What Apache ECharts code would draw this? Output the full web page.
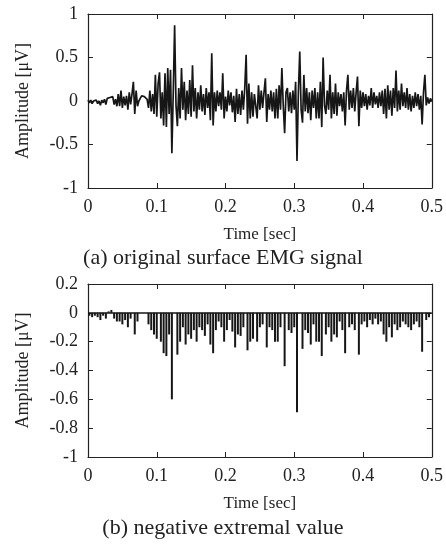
<!DOCTYPE html>
<html>
<head>
<meta charset="utf-8">
<script src="https://cdn.jsdelivr.net/npm/echarts@6/dist/echarts.min.js"></script>
<style>
html,body{margin:0;padding:0;background:#fff;}
#chart{width:446px;height:553px;}
</style>
</head>
<body>
<div id="chart"></div>
<script>
// ---- data ----
var sampleStep = 0.002; // seconds between samples
var emgSignal = [
 0.01,-0.02,0.01,-0.03,0.0,-0.02,0.01,-0.03,0.0,-0.05,
 0.01,-0.02,0.02,-0.04,0.03,0.01,0.04,0.02,0.05,-0.04,
 0.02,-0.06,0.08,-0.06,0.12,-0.08,0.05,-0.05,0.06,-0.1,
 0.1,-0.04,0.08,0.22,-0.15,0.12,-0.06,0.0,0.03,0.06,
 0.07,0.05,0.03,0.02,-0.08,0.12,-0.12,0.08,-0.15,0.3,
 -0.18,0.2,0.33,-0.2,0.1,-0.28,0.32,-0.3,0.38,-0.15,
 0.36,-0.6,0.1,0.87,-0.05,-0.29,0.15,-0.2,0.38,-0.1,
 0.22,-0.22,0.12,-0.15,0.24,-0.18,0.41,-0.12,0.15,-0.2,
 0.1,-0.1,0.18,-0.12,0.08,-0.16,0.15,-0.08,0.1,-0.22,
 0.55,-0.28,0.1,-0.12,0.12,-0.06,0.1,-0.1,0.32,-0.2,
 0.05,-0.12,0.12,-0.05,0.1,-0.13,0.06,-0.24,0.14,-0.15,
 0.08,-0.16,0.12,-0.1,0.15,0.53,-0.26,0.2,-0.2,0.1,
 -0.18,0.08,-0.06,-0.2,0.18,-0.1,0.12,-0.08,0.1,0.26,
 -0.24,0.08,-0.1,0.12,-0.12,0.1,-0.2,0.14,-0.2,0.18,
 -0.1,0.38,-0.05,-0.37,0.1,0.15,-0.12,0.1,-0.14,0.12,
 -0.1,0.22,-0.69,0.1,0.57,-0.1,-0.25,0.3,-0.12,0.15,
 -0.14,0.1,-0.22,0.12,-0.08,0.15,-0.2,0.1,-0.2,0.22,
 -0.3,0.5,-0.05,-0.15,0.12,-0.1,0.3,-0.2,0.1,-0.15,
 0.2,-0.17,0.1,-0.06,0.08,-0.12,0.1,-0.28,0.12,0.3,
 -0.1,0.12,-0.08,0.15,-0.12,0.1,0.28,-0.29,0.12,-0.08,
 0.1,-0.06,0.08,-0.1,0.06,-0.05,0.15,-0.08,0.1,-0.04,
 0.06,-0.08,0.1,-0.06,0.12,-0.15,0.14,-0.2,0.18,-0.1,
 0.12,-0.17,0.15,-0.08,0.35,-0.12,0.12,-0.1,0.2,-0.06,
 0.1,-0.08,0.15,-0.1,0.08,-0.12,0.06,-0.08,0.1,-0.06,
 0.08,-0.1,0.06,-0.27,0.1,0.3,-0.05,0.04,-0.03,0.03,
 0.0
];
var xTicks = [0, 0.1, 0.2, 0.3, 0.4, 0.5];
var yTicksTop = [-1, -0.5, 0, 0.5, 1];
var yTicksBottom = [-1, -0.8, -0.6, -0.4, -0.2, 0, 0.2];
var captionA = '(a) original surface EMG signal';
var captionB = '(b) negative extremal value';
var xName = 'Time [sec]';
var yName = 'Amplitude [\u03bcV]';

// ---- build series data ----
var signalData = emgSignal.map(function (v, i) { return [+(i * sampleStep).toFixed(4), v]; });
// negative extremal values = local minima of the signal
var extremaData = [];
for (var i = 1; i < emgSignal.length - 1; i++) {
  if (emgSignal[i] < emgSignal[i - 1] && emgSignal[i] <= emgSignal[i + 1]) {
    extremaData.push([+(i * sampleStep).toFixed(4), emgSignal[i]]);
  }
}

var FONT = '"Liberation Serif","DejaVu Serif",serif';
var INK = '#222';

function xAx(grid, pos, labels) {
  var a = {
    type: 'value', gridIndex: grid, position: pos,
    min: xTicks[0], max: xTicks[xTicks.length - 1], interval: 0.1,
    axisLine: { show: true, onZero: false, lineStyle: { color: INK, width: 1.2 } },
    axisTick: { show: true, inside: true, length: 5, lineStyle: { color: INK } },
    splitLine: { show: false },
    axisLabel: { show: labels, color: INK, fontFamily: FONT, fontSize: 18, margin: 10 }
  };
  if (labels) {
    a.name = xName; a.nameLocation = 'middle'; a.nameGap = 38;
    a.nameTextStyle = { color: INK, fontFamily: FONT, fontSize: 17 };
  }
  return a;
}
function yAx(grid, pos, labels, ticks, step) {
  var a = {
    type: 'value', gridIndex: grid, position: pos,
    min: ticks[0], max: ticks[ticks.length - 1], interval: step,
    axisLine: { show: true, onZero: false, lineStyle: { color: INK, width: 1.2 } },
    axisTick: { show: true, inside: true, length: 5, lineStyle: { color: INK } },
    splitLine: { show: false },
    axisLabel: { show: labels, color: INK, fontFamily: FONT, fontSize: 18, margin: 10 }
  };
  if (labels) {
    a.name = yName; a.nameLocation = 'middle'; a.nameGap = 56; a.nameRotate = 90;
    a.nameTextStyle = { color: INK, fontFamily: FONT, fontSize: 18 };
  }
  return a;
}

var chart = echarts.init(document.getElementById('chart'), null, { renderer: 'canvas' });
chart.setOption({
  backgroundColor: '#fff',
  animation: false,
  title: [
    { text: captionA, left: 'center', top: 242, textStyle: { color: INK, fontFamily: FONT, fontWeight: 'normal', fontSize: 22 } },
    { text: captionB, left: 'center', top: 512, textStyle: { color: INK, fontFamily: FONT, fontWeight: 'normal', fontSize: 22 } }
  ],
  grid: [
    { left: 88, right: 13, top: 14, height: 174 },
    { left: 88, right: 13, top: 284, height: 173 }
  ],
  xAxis: [xAx(0, 'bottom', true), xAx(0, 'top', false), xAx(1, 'bottom', true), xAx(1, 'top', false)],
  yAxis: [yAx(0, 'left', true, yTicksTop, 0.5), yAx(0, 'right', false, yTicksTop, 0.5),
          yAx(1, 'left', true, yTicksBottom, 0.2), yAx(1, 'right', false, yTicksBottom, 0.2)],
  series: [
    {
      type: 'line', xAxisIndex: 0, yAxisIndex: 0, data: signalData,
      showSymbol: false, symbol: 'none', smooth: false,
      lineStyle: { color: '#161616', width: 1.7 }
    },
    {
      type: 'bar', xAxisIndex: 2, yAxisIndex: 2, data: extremaData,
      barWidth: 2, itemStyle: { color: '#161616' },
      markLine: {
        silent: true, symbol: 'none', label: { show: false },
        lineStyle: { color: '#161616', width: 1.6, type: 'solid' },
        data: [{ yAxis: 0 }]
      }
    }
  ]
});
</script>
</body>
</html>
